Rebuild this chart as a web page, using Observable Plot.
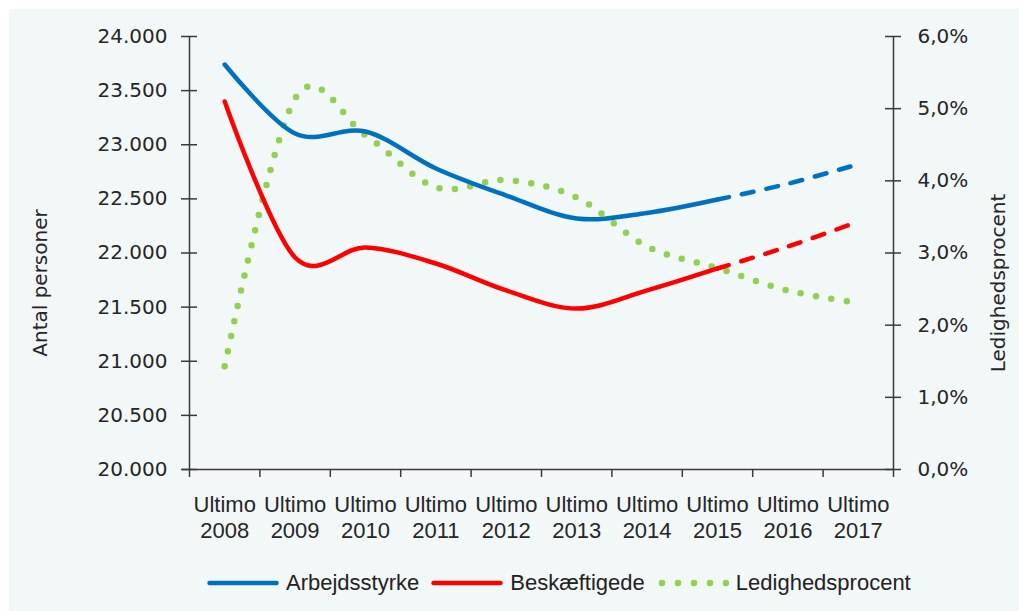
<!DOCTYPE html>
<html>
<head>
<meta charset="utf-8">
<script src="https://cdn.jsdelivr.net/npm/d3@7"></script>
<script src="https://cdn.jsdelivr.net/npm/@observablehq/plot@0.6"></script>
<style>
  html, body { margin: 0; padding: 0; background: #ffffff; }
  body { position: relative; width: 1019px; height: 611px; overflow: hidden; }
  #panel { position: absolute; left: 9px; top: 9px; width: 1010px; height: 602px; background: #f2f7f8; }
  #chart { position: absolute; left: 0; top: 0; }
  #legend { position: absolute; left: 207px; top: 570px; display: flex; align-items: center;
            font-family: "Liberation Sans", Arial, sans-serif; font-size: 22px; color: #222; }
  #legend .item { display: flex; align-items: center; margin-right: 12px; }
  #legend svg { margin-right: 7px; }
</style>
</head>
<body>
<div id="panel"></div>
<div id="chart"></div>
<div id="legend"></div>
<script>
const years = [2008, 2009, 2010, 2011, 2012, 2013, 2014, 2015, 2016, 2017];
const arbejdsstyrke = [23741, 23104, 23122, 22781, 22531, 22319, 22370, 22494, 22640, 22820];
const beskaeftigede = [23400, 21958, 22051, 21903, 21654, 21487, 21654, 21857, 22060, 22290];
const ledighedsprocent = [1.43, 5.14, 4.63, 3.91, 4.01, 3.77, 3.09, 2.79, 2.48, 2.31];
const lastActual = 2015;
const leftTicks = [20000, 20500, 21000, 21500, 22000, 22500, 23000, 23500, 24000];
const rightTicks = [0, 1, 2, 3, 4, 5, 6];
const seriesNames = ["Arbejdsstyrke", "Beskæftigede", "Ledighedsprocent"];
const colors = ["#0070c0", "#ff0000", "#92d050"];

const yMin = 20000, yMax = 24000, pMax = 6;
const pToY = p => yMin + p * (yMax - yMin) / pMax;
const yToP = y => (y - yMin) * pMax / (yMax - yMin);

const idx = years.map((_, i) => i);
const rows = idx.map(i => ({i, year: years[i], a: arbejdsstyrke[i], b: beskaeftigede[i], l: pToY(ledighedsprocent[i])}));
const cut = years.indexOf(lastActual);
const actual = rows.filter(r => r.i <= cut);
const forecast = rows.filter(r => r.i >= cut);
const bounds = d3.range(-0.5, years.length, 1);

const axisColor = "#3a3a3a";
const textColor = "#262626";
const fmtLeft = d => d3.format(",")(d).replace(/,/g, ".");
const fmtRight = y => yToP(y).toFixed(1).replace(".", ",") + "%";

const lineOpts = {curve: "cardinal", tension: 0, strokeWidth: 4.5, strokeLinecap: "round"};

const plot = Plot.plot({
  width: 1019,
  height: 550,
  marginLeft: 189,
  marginRight: 126,
  marginTop: 36,
  marginBottom: 81,
  style: {background: "transparent", fontFamily: "DejaVu Sans, sans-serif", fontSize: "20px", color: textColor},
  x: {type: "linear", domain: [-0.5, years.length - 0.5]},
  y: {domain: [yMin, yMax]},
  marks: [
    // axis lines
    Plot.ruleX([-0.5, years.length - 0.5], {y1: yMin, y2: yMax, stroke: axisColor, strokeWidth: 1.5}),
    Plot.ruleY([yMin], {x1: -0.5, x2: years.length - 0.5, insetLeft: -7, stroke: axisColor, strokeWidth: 1.5}),
    // cross ticks left / right
    Plot.ruleY(leftTicks, {x1: -0.5, x2: -0.5, insetLeft: -8, insetRight: -8, stroke: axisColor, strokeWidth: 1.5}),
    Plot.ruleY(rightTicks.map(pToY), {x1: years.length - 0.5, x2: years.length - 0.5, insetLeft: -8, insetRight: -8, stroke: axisColor, strokeWidth: 1.5}),
    // axes
    Plot.axisY(leftTicks, {anchor: "left", tickSize: 0, tickPadding: 22, tickFormat: fmtLeft, fontSize: 20, fill: textColor, label: null}),
    Plot.axisY(rightTicks.map(pToY), {anchor: "right", tickSize: 0, tickPadding: 24, tickFormat: fmtRight, fontSize: 20, fill: textColor, label: null}),
    Plot.axisX(bounds, {anchor: "bottom", tickSize: 8, stroke: axisColor, strokeWidth: 1.5, tickFormat: () => "", label: null}),
    Plot.axisX(idx, {anchor: "bottom", tickSize: 0, tickPadding: 23, tickFormat: i => "Ultimo\n" + years[i],
      fontFamily: "Liberation Sans, Arial, sans-serif", fontSize: 22, lineHeight: 1.22, fill: textColor, label: null}),
    // axis titles
    Plot.text(["Antal personer"], {frameAnchor: "left", text: d => d, rotate: -90, textAnchor: "middle", dx: -149, dy: 30, fontSize: 20, fill: textColor}),
    Plot.text(["Ledighedsprocent"], {frameAnchor: "right", text: d => d, rotate: -90, textAnchor: "middle", dx: 105, dy: 30, fontSize: 20, fill: textColor}),
    // series
    Plot.line(rows, {x: "i", y: "l", stroke: colors[2], ...lineOpts, strokeWidth: 6.5, strokeDasharray: "0 15.5"}),
    Plot.line(actual, {x: "i", y: "a", stroke: colors[0], ...lineOpts}),
    Plot.line(forecast, {x: "i", y: "a", stroke: colors[0], ...lineOpts, strokeDasharray: "12 13"}),
    Plot.line(actual, {x: "i", y: "b", stroke: colors[1], ...lineOpts}),
    Plot.line(forecast, {x: "i", y: "b", stroke: colors[1], ...lineOpts, strokeDasharray: "12 13"})
  ]
});
document.getElementById("chart").appendChild(plot);

// legend
const legend = document.getElementById("legend");
seriesNames.forEach((name, k) => {
  const item = document.createElement("div");
  item.className = "item";
  const dotted = k === 2;
  item.innerHTML =
    `<svg width="${dotted ? 72 : 72}" height="12">` +
    (dotted
      ? `<line x1="5" y1="6" x2="72" y2="6" stroke="${colors[k]}" stroke-width="6.5" stroke-linecap="round" stroke-dasharray="0 16"/>`
      : `<line x1="2.5" y1="6" x2="69.5" y2="6" stroke="${colors[k]}" stroke-width="4.5" stroke-linecap="round"/>`) +
    `</svg><span>${name}</span>`;
  legend.appendChild(item);
});
</script>
</body>
</html>
